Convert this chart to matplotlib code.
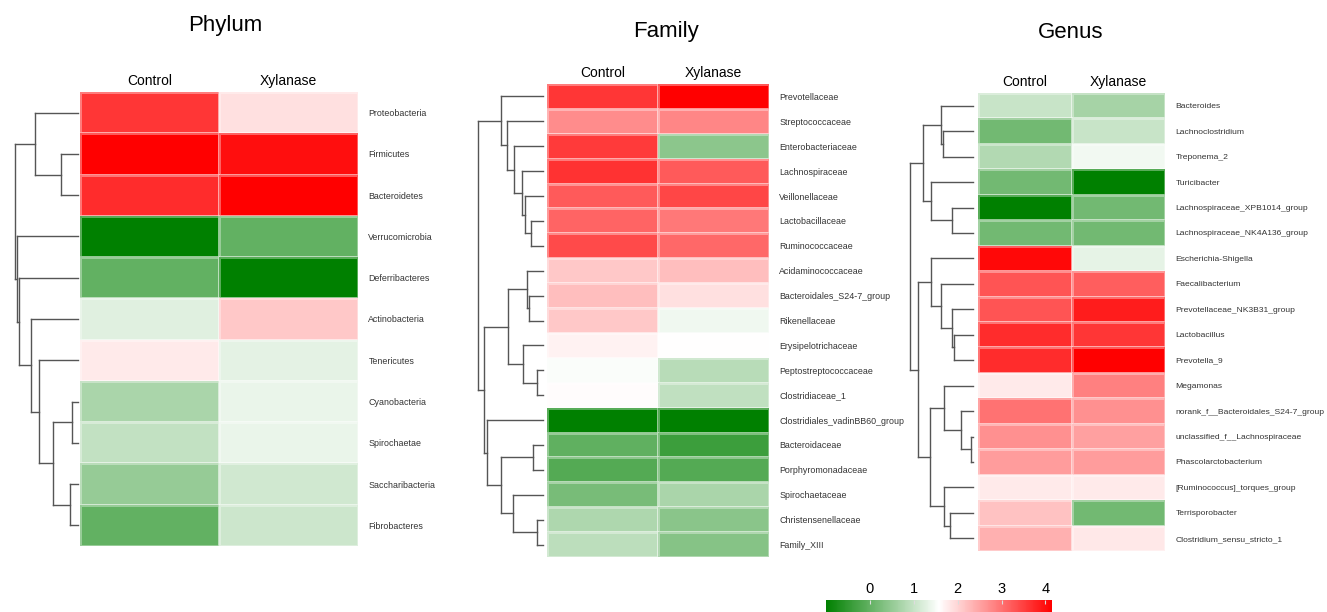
import matplotlib
matplotlib.use("Agg")
import matplotlib.pyplot as plt
import numpy as np
from matplotlib.colors import LinearSegmentedColormap, Normalize
from matplotlib.cm import ScalarMappable
from matplotlib.collections import LineCollection

plt.rcParams['font.family'] = ['Liberation Sans', 'DejaVu Sans']

columns = ["Control", "Xylanase"]
titles = ["Phylum", "Family", "Genus"]
cbar_ticks = [0, 1, 2, 3, 4]

# ---------------- Phylum ----------------
phylum_names = ["Proteobacteria", "Firmicutes", "Bacteroidetes", "Verrucomicrobia",
                "Deferribacteres", "Actinobacteria", "Tenericutes", "Cyanobacteria",
                "Spirochaetae", "Saccharibacteria", "Fibrobacteres"]
phylum_control = [3.59, 4.15, 3.70, -1.0, 0.0, 1.27, 1.78, 0.72, 0.97, 0.52, 0.0]
phylum_xylanase = [1.88, 4.00, 4.15, 0.0, -1.0, 2.13, 1.30, 1.37, 1.37, 1.10, 1.07]
# merges (a, b, height); indices >= n refer to earlier merges
phylum_linkage = [(1, 2, 17), (0, 11, 43), (7, 8, 6), (9, 10, 8), (13, 14, 25),
                  (6, 15, 39), (5, 16, 47), (4, 17, 59.5), (3, 18, 61), (12, 19, 63.5)]

# ---------------- Family ----------------
family_names = ["Prevotellaceae", "Streptococcaceae", "Enterobacteriaceae", "Lachnospiraceae",
                "Veillonellaceae", "Lactobacillaceae", "Ruminococcaceae", "Acidaminococcaceae",
                "Bacteroidales_S24-7_group", "Rikenellaceae", "Erysipelotrichaceae",
                "Peptostreptococcaceae", "Clostridiaceae_1", "Clostridiales_vadinBB60_group",
                "Bacteroidaceae", "Porphyromonadaceae", "Spirochaetaceae",
                "Christensenellaceae", "Family_XIII"]
family_control = [3.59, 2.74, 3.55, 3.64, 3.24, 3.14, 3.39, 2.13, 2.23, 2.13, 1.70,
                  1.52, 1.60, -1.0, -0.02, -0.14, 0.21, 0.77, 0.90]
family_xylanase = [4.15, 2.79, 0.41, 3.24, 3.44, 2.94, 3.09, 2.23, 1.88, 1.42, 1.575,
                   0.87, 0.94, -1.0, -0.38, -0.14, 0.72, 0.39, 0.36]
family_linkage = [(5, 6, 12.6), (4, 19, 18.3), (3, 20, 21.6), (2, 21, 29), (1, 22, 36),
                  (0, 23, 42.6), (8, 9, 14), (7, 25, 16.6), (11, 12, 6), (10, 27, 20),
                  (26, 28, 35.6), (14, 15, 10.6), (17, 18, 6), (16, 31, 30), (30, 32, 42.3),
                  (13, 33, 56.6), (29, 34, 59.3), (24, 35, 65)]

# ---------------- Genus ----------------
genus_names = ["Bacteroides", "Lachnoclostridium", "Treponema_2", "Turicibacter",
               "Lachnospiraceae_XPB1014_group", "Lachnospiraceae_NK4A136_group",
               "Escherichia-Shigella", "Faecalibacterium", "Prevotellaceae_NK3B31_group",
               "Lactobacillus", "Prevotella_9", "Megamonas",
               "norank_f__Bacteroidales_S24-7_group", "unclassified_f__Lachnospiraceae",
               "Phascolarctobacterium", "[Ruminococcus]_torques_group", "Terrisporobacter",
               "Clostridium_sensu_stricto_1"]
genus_control = [1.02, 0.16, 0.80, 0.16, -1.0, 0.16, 4.05, 3.29, 3.29, 3.70, 3.70,
                 1.78, 2.99, 2.69, 2.58, 1.78, 2.18, 2.37]
genus_xylanase = [0.67, 1.02, 1.45, -1.0, 0.16, 0.16, 1.32, 3.19, 3.85, 3.59, 4.15,
                  2.86, 2.69, 2.53, 2.58, 1.78, 0.16, 1.81]
genus_linkage = [(1, 2, 30.6), (0, 18, 32.6), (4, 5, 21), (3, 20, 42.6), (19, 21, 50),
                 (9, 10, 19.3), (8, 23, 21), (7, 24, 32.6), (6, 25, 42.6), (13, 14, 2.6),
                 (12, 27, 12.6), (11, 28, 29), (16, 17, 23.3), (15, 30, 29), (29, 31, 43.3),
                 (26, 32, 55), (22, 33, 63.3)]

W, H = 1327, 612
fig = plt.figure(figsize=(W / 100, H / 100), dpi=100)


def px_axes(x0, y0, x1, y1):
    return fig.add_axes([x0 / W, 1 - y1 / H, (x1 - x0) / W, (y1 - y0) / H])


cmap = LinearSegmentedColormap.from_list("gwr", ["#008000", "#ffffff", "#ff0000"])
norm = Normalize(vmin=-1.0, vmax=4.15)


def heat(ax, control, xylanase, names, fs):
    n = len(names)
    data = np.column_stack([control, xylanase])
    ax.pcolormesh(data, cmap=cmap, norm=norm, edgecolors=(1, 1, 1, 0.35), linewidth=0.8)
    ax.set_xlim(0, 2)
    ax.set_ylim(n, 0)
    ax.set_xticks([0.5, 1.5])
    ax.set_xticklabels(columns, fontsize=10, color="black")
    ax.xaxis.tick_top()
    ax.tick_params(axis='x', length=0, pad=3)
    ax.set_yticks(np.arange(n) + 0.5)
    ax.set_yticklabels(names, fontsize=fs, color="#333333")
    ax.yaxis.tick_right()
    ax.tick_params(axis='y', length=0, pad=7.5)
    for s in ax.spines.values():
        s.set_visible(False)


def dendro(ax, linkage, n, hmax):
    pos = {i: i + 0.5 for i in range(n)}
    hgt = {i: 0.0 for i in range(n)}
    segs = []
    for k, (a, b, h) in enumerate(linkage):
        node = n + k
        for c in (a, b):
            segs.append([(hgt[c], pos[c]), (h, pos[c])])
        segs.append([(h, pos[a]), (h, pos[b])])
        pos[node] = (pos[a] + pos[b]) / 2
        hgt[node] = h
    ax.add_collection(LineCollection(segs, colors="#555555", linewidths=1.0,
                                     capstyle='projecting', clip_on=False))
    ax.set_xlim(hmax, 0)
    ax.set_ylim(n, 0)
    ax.axis('off')


# Phylum
ax = px_axes(80, 92, 358, 546)
heat(ax, phylum_control, phylum_xylanase, phylum_names, 6.4)
ax = px_axes(14.5, 92, 78, 546)
dendro(ax, phylum_linkage, len(phylum_names), 63.5)

# Family
ax = px_axes(547, 84, 769, 557)
heat(ax, family_control, family_xylanase, family_names, 6.4)
ax = px_axes(478.3, 84, 543.3, 557)
dendro(ax, family_linkage, len(family_names), 65)

# Genus
ax = px_axes(978, 93, 1165, 551)
heat(ax, genus_control, genus_xylanase, genus_names, 6.1)
ax = px_axes(910, 93, 973.3, 551)
dendro(ax, genus_linkage, len(genus_names), 63.3)

# Titles
for t, (x, y) in zip(titles, [(225, 26), (666, 31), (1071, 33)]):
    fig.text(x / W, 1 - y / H, t, ha='center', va='center', fontsize=16)

# Colorbar
cax = px_axes(826, 600, 1052, 618)
cb = fig.colorbar(ScalarMappable(norm=norm, cmap=cmap), cax=cax,
                  orientation='horizontal', ticks=cbar_ticks)
cb.outline.set_visible(False)
cax.xaxis.set_ticks_position('top')
cax.xaxis.set_label_position('top')
cax.tick_params(axis='x', direction='in', length=3, color="#dddddd",
                labelsize=10.5, pad=3)
cax.set_xticklabels([str(t) for t in cbar_ticks])

fig.savefig("out.png", dpi=100)
